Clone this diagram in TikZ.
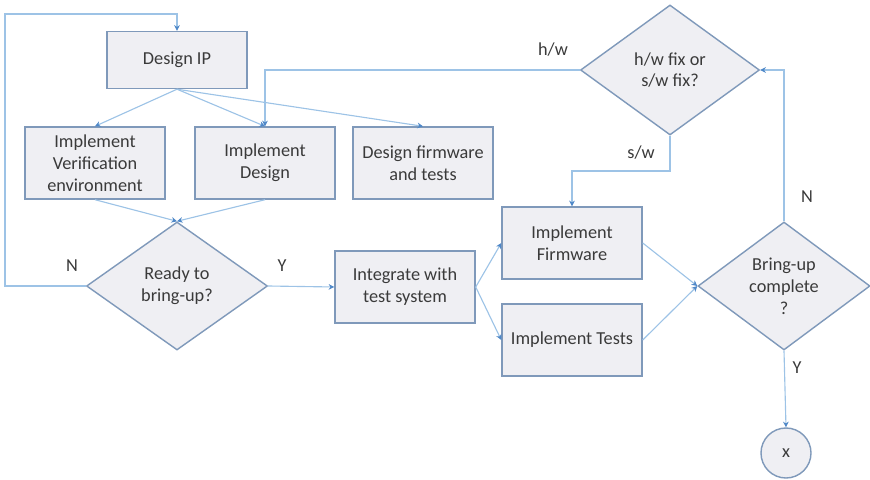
\documentclass[tikz,border=0pt]{standalone}
\usepackage{fontspec}
\setmainfont{Carlito}
\usetikzlibrary{shapes.geometric,arrows.meta}
\definecolor{linkblue}{HTML}{9DC3E6}
\definecolor{tipblue}{HTML}{4F88C8}
\definecolor{edgegray}{HTML}{7F99BA}
\definecolor{boxfill}{HTML}{EFEFF3}
\definecolor{txtgray}{HTML}{3A3A3A}

\begin{document}
\begin{tikzpicture}[x=0.025cm,y=-0.025cm,
  every node/.style={font=\fontsize{13}{15.5}\selectfont,text=txtgray},
  task/.style={draw=edgegray,fill=boxfill,line width=1pt,align=center,
    minimum width=3.5cm,minimum height=1.8cm,inner sep=2pt},
  choice/.style={draw=edgegray,fill=boxfill,line width=1pt,align=center,
    shape=diamond,aspect=1.4,inner sep=0pt},
  stop/.style={draw=edgegray,fill=boxfill,line width=1pt,circle,
    minimum size=1.25cm,inner sep=0pt},
  flow/.style={draw=linkblue,line width=0.8pt,
    -{Stealth[length=4pt,width=4pt,color=tipblue]}},
  lbl/.style={inner sep=1pt}]
\useasboundingbox (0,0) rectangle (870,480);
% Tasks
\node[task,minimum height=1.425cm] (ip) at (177,60) {Design IP};
\node[task] (ver) at (95,163) {Implement\\Verification\\environment};
\node[task] (design) at (265,163) {Implement\\Design};
\node[task] (fw) at (423,163) {Design firmware\\and tests};
\node[task] (integ) at (405,287) {Integrate with\\test system};
\node[task] (firm) at (572,243) {Implement\\Firmware};
\node[task] (tests) at (572,340) {Implement Tests};
% Decisions
\node[choice,minimum width=4.525cm,minimum height=3.2cm] (ready) at (177,286) {Ready to\\bring-up?};
\node[choice,minimum width=4.475cm,minimum height=3.25cm] (fix) at (670,70) {h/w fix or\\s/w fix?};
\node[choice,minimum width=4.3cm,minimum height=3.2cm] (done) at (784,286) {Bring-up\\complete\\?};
\node[stop] (end) at (786,453) {x};
% Bends
\coordinate (loop) at (5,14);
\coordinate (swbend) at (670,171);
% Labels
\node[lbl] (lblN) at (72,266) {N};
\node[lbl] (lblY) at (282,266) {Y};
\node[lbl] (lblhw) at (553,50) {h/w};
\node[lbl] (lblsw) at (641,153) {s/w};
\node[lbl] (lblNdone) at (807,197) {N};
\node[lbl] (lblYdone) at (797,368) {Y};
% Flow
\draw[flow] (ip.south) -- (ver.north);
\draw[flow] (ip.south) -- (design.north);
\draw[flow] (ip.south) -- (fw.north);
\draw[flow] (ver.south) -- (ready.north);
\draw[flow] (design.south) -- (ready.north);
\draw[flow] (ready.west) -| (loop) -| (ip.north);
\draw[flow] (ready.east) -- (integ.west);
\draw[flow] (integ.east) -- (firm.west);
\draw[flow] (integ.east) -- (tests.west);
\draw[flow] (firm.east) -- (done.west);
\draw[flow] (tests.east) -- (done.west);
\draw[flow] (done.north) |- (fix.east);
\draw[flow] (fix.west) -| (design.north);
\draw[flow] (fix.south) -- (swbend) -| (firm.north);
\draw[flow] (done.south) -- (end.north);
\end{tikzpicture}
\end{document}
